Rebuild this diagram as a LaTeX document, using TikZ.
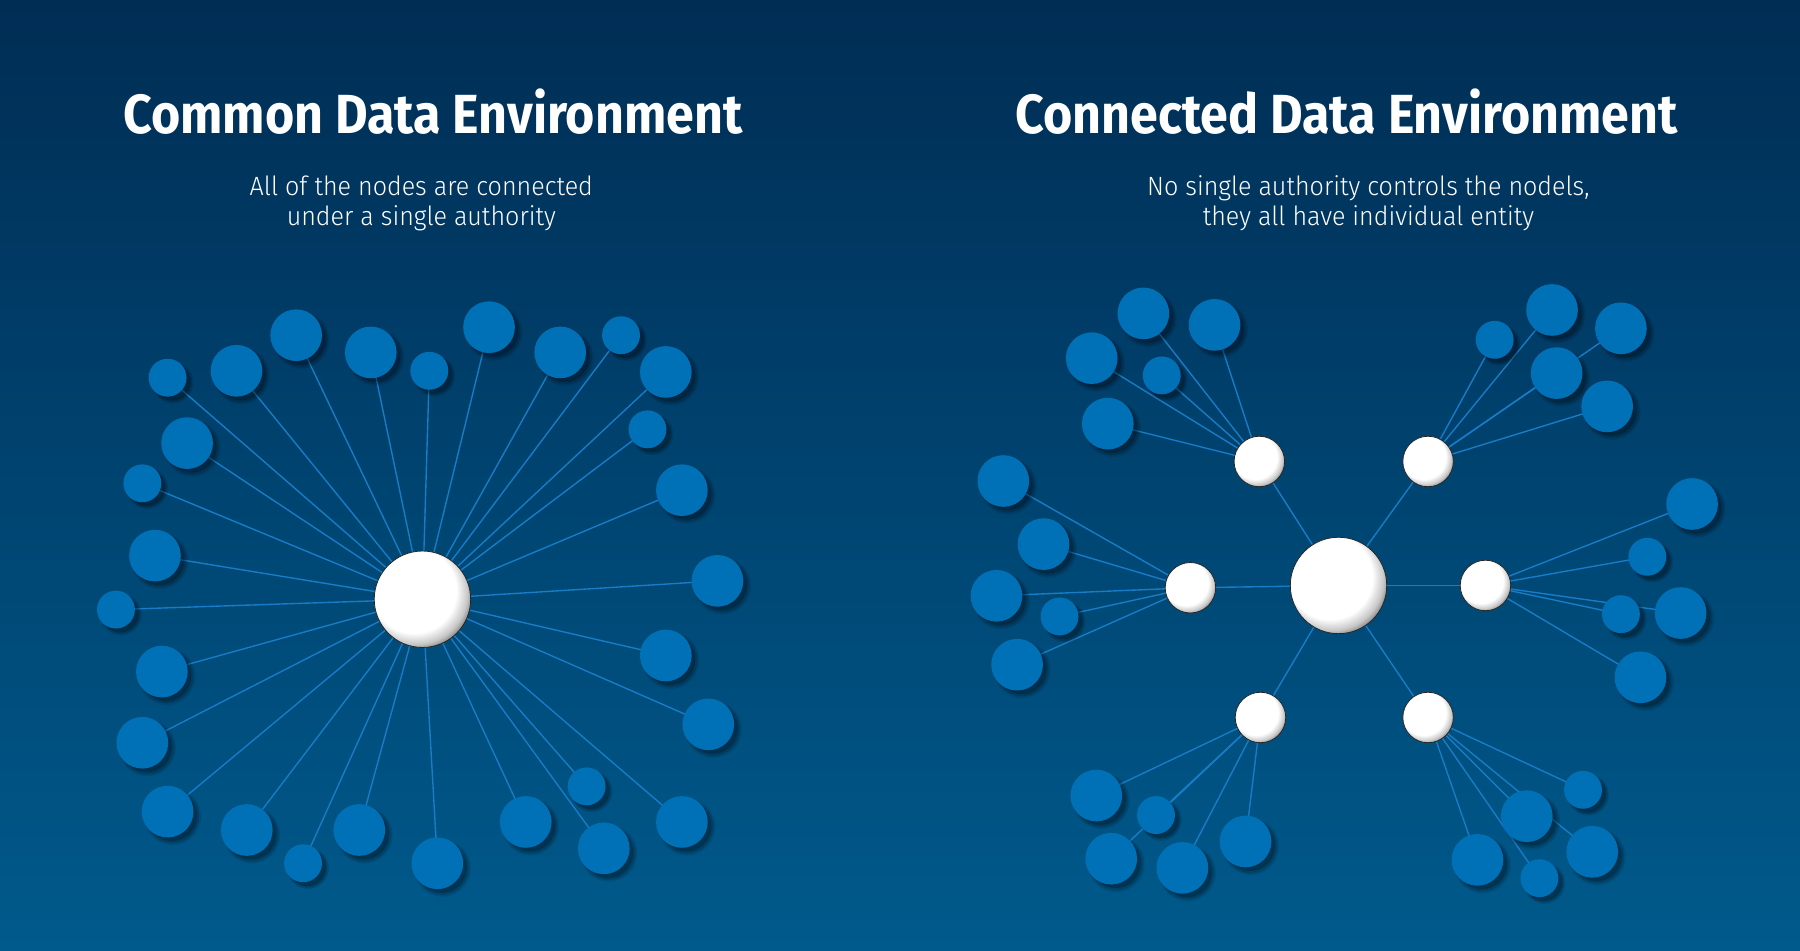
\documentclass[tikz,border=0pt]{standalone}
\usepackage{fontspec}
\newfontfamily\titlefont{Fira Sans}[FakeStretch=0.91]
\newfontfamily\subfont{Fira Sans Light}[FakeStretch=0.95]
\usetikzlibrary{shadows}
\pgfdeclarelayer{back}
\pgfdeclarelayer{links}
\pgfsetlayers{back,links,main}
\definecolor{bgtop}{RGB}{0,45,84}
\definecolor{bgmid}{RGB}{0,62,106}
\definecolor{bgbot}{RGB}{0,90,140}
\definecolor{dotblue}{RGB}{0,113,183}
\definecolor{linkblue}{RGB}{24,124,198}
\pgfdeclareradialshading{wball}{\pgfqpoint{-8bp}{8bp}}{color(0bp)=(white); color(22bp)=(white); color(27bp)=(black!22); color(30bp)=(black!50); color(50bp)=(black!55)}
\begin{document}
\begin{tikzpicture}[x=1pt,y=-1pt,
  dotb/.style={circle, fill=dotblue, inner sep=0pt, minimum size=45pt,
    general shadow={shadow xshift=4pt, shadow yshift=-4pt, shadow scale=1.10, fill=black, opacity=0.10},
    general shadow={shadow xshift=4pt, shadow yshift=-4pt, shadow scale=1.04, fill=black, opacity=0.15},
    general shadow={shadow xshift=4pt, shadow yshift=-4pt, shadow scale=0.97, fill=black, opacity=0.20}},
  dots/.style={dotb, minimum size=33pt},
  hubbig/.style={circle, shading=wball, draw=black!85, line width=0.7pt, inner sep=0pt, minimum size=84pt},
  hubsmall/.style={hubbig, minimum size=44pt},
  link/.style={draw=linkblue, line width=1.2pt},
  titletext/.style={text=white, font=\titlefont\bfseries\fontsize{48}{56}\selectfont, anchor=base, inner sep=0pt},
  subtext/.style={text=white, font=\subfont\fontsize{23}{26}\selectfont, align=center, inner sep=0pt}
]
\useasboundingbox (0,0) rectangle (1568,828);
\begin{pgfonlayer}{back}
\fill[top color=bgtop, middle color=bgmid, bottom color=bgbot] (0,0) rectangle (1568,828);
\end{pgfonlayer}

% titles
\node[titletext] (t1) at (377,116) {Common Data Environment};
\node[titletext] (t2) at (1173,116) {Connected Data Environment};
\node[subtext] (s1) at (367,177) {All of the nodes are connected\\under a single authority};
\node[subtext] (s2) at (1192,177) {No single authority controls the nodels,\\they all have individual entity};

% ---------- left: common data environment ----------
\node[hubbig] (c) at (368,522) {};
\foreach \n/\x/\y/\s in {a1/146/329/s, a2/206/323/b, a3/258/292/b, a4/323/307/b, a5/374/323/s,
  a6/426/285/b, a7/488/307/b, a8/541/292/s, a9/580/324/b, a10/564/374/s, a11/163/386/b,
  a12/124/421/s, a13/594/427/b, a14/135/484/b, a15/625/506/b, a16/101/531/s, a17/141/585/b,
  a18/580/571/b, a19/124/647/b, a20/617/631/b, a21/146/707/b, a22/215/723/b, a23/264/752/s,
  a24/313/723/b, a25/381/752/b, a26/458/716/b, a27/511/685/s, a28/526/739/b, a29/594/716/b}
{
  \node[dot\s] (\n) at (\x,\y) {};
  \begin{pgfonlayer}{links}
    \draw[link] (c.center) -- (\n.center);
  \end{pgfonlayer}
}

% ---------- right: connected data environment ----------
\node[hubbig] (m) at (1166,510) {};
\foreach \h/\x/\y in {hul/1097/402, hur/1244/402, hl/1037/512, hr/1294/510, hll/1098/625, hlr/1244/625}
{
  \node[hubsmall] (\h) at (\x,\y) {};
  \begin{pgfonlayer}{links}
    \draw[link] (m.center) -- (\h.center);
  \end{pgfonlayer}
}
\foreach \n/\x/\y/\s/\h in {
  p1/996/273/b/hul, p2/1058/283/b/hul, p3/951/312/b/hul, p4/1012/327/s/hul, p5/965/369/b/hul,
  q1/1302/296/s/hur, q2/1352/270/b/hur, q3/1412/286/b/hur, q4/1356/325/b/hur, q5/1400/354/b/hur,
  r1/874/419/b/hl, r2/909/474/b/hl, r3/868/519/b/hl, r4/923/537/s/hl, r5/886/579/b/hl,
  u1/1474/439/b/hr, u2/1435/485/s/hr, u3/1412/535/s/hr, u4/1464/534/b/hr, u5/1429/590/b/hr,
  v1/955/693/b/hll, v2/1007/710/s/hll, v3/968/748/b/hll, v4/1030/756/b/hll, v5/1085/733/b/hll,
  w1/1379/688/s/hlr, w2/1330/711/b/hlr, w3/1387/742/b/hlr, w4/1287/749/b/hlr, w5/1341/765/s/hlr}
{
  \node[dot\s] (\n) at (\x,\y) {};
  \begin{pgfonlayer}{links}
    \draw[link] (\h.center) -- (\n.center);
  \end{pgfonlayer}
}
\end{tikzpicture}
\end{document}
